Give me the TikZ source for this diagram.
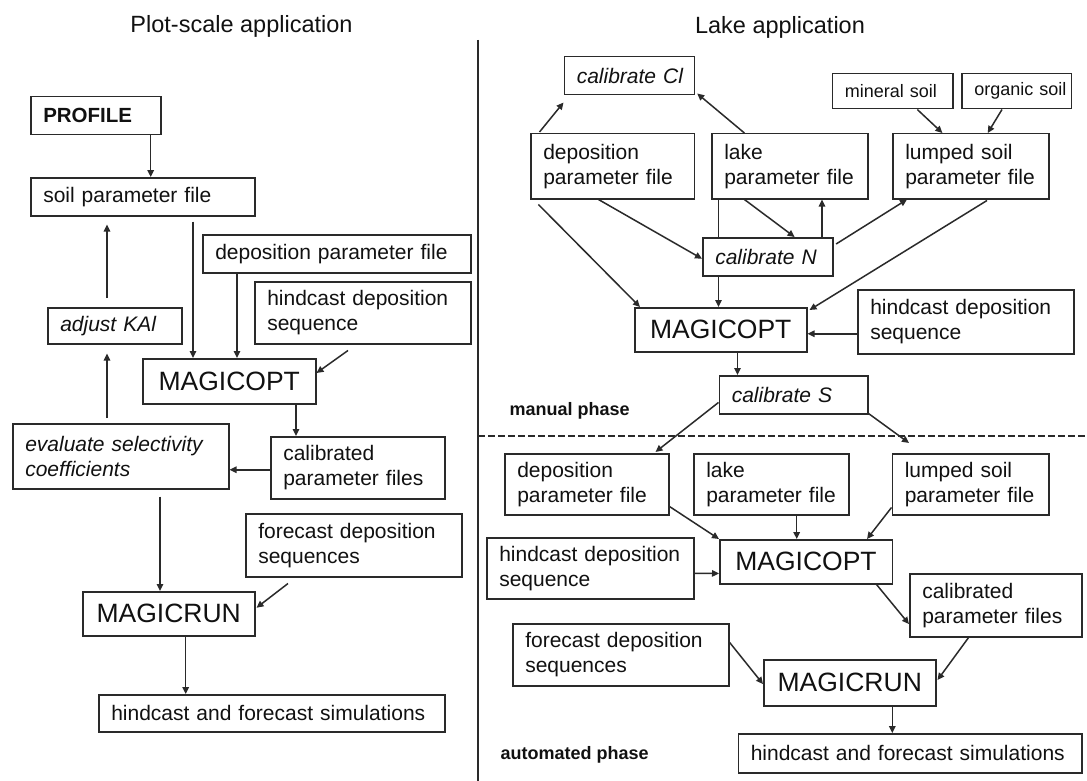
\documentclass[tikz,border=0pt]{standalone}
\usepackage{fontspec}
\setmainfont{Liberation Sans}
\usetikzlibrary{arrows.meta,calc}
\definecolor{linecol}{HTML}{2a2a2a}
\definecolor{txtcol}{HTML}{111111}
\tikzset{
  box/.style={draw=linecol, line width=1.5pt, inner xsep=12.5pt, inner ysep=0pt,
    align=left, text=txtcol, font=\fontsize{21}{25}\selectfont},
  itbox/.style={font=\fontsize{21}{25}\selectfont\itshape},
  bigbox/.style={align=center, font=\fontsize{26.5}{30}\selectfont},
  smallbox/.style={font=\fontsize{18}{22}\selectfont},
  arr/.style={draw=linecol, line width=1.5pt, -{Triangle[length=7pt,width=6.5pt]}},
  conn/.style={draw=linecol, line width=1.5pt},
  titletext/.style={font=\fontsize{23.5}{27}\selectfont, text=txtcol, anchor=base},
  phasetext/.style={font=\bfseries\fontsize{18}{21}\selectfont, text=txtcol, anchor=base west},
}
\newcommand{\mybox}[7][]{%
  \pgfmathsetmacro{\mbw}{#5-#3}%
  \pgfmathsetmacro{\mbh}{#6-#4}%
  \pgfmathsetmacro{\mbt}{#5-#3-25}%
  \node[box, minimum width=\mbw pt, minimum height=\mbh pt, text width=\mbt pt,
        anchor=north west, #1] (#2) at (#3,#4) {#7};%
}
\begin{document}
\begin{tikzpicture}[x=1pt,y=-1pt]
\fill[white] (0,0) rectangle (1087,781);
\useasboundingbox (0,0) rectangle (1087,781);

% titles and separators
\node[titletext] (t1) at (241.5,33) {Plot-scale application};
\node[titletext] (t2) at (780,34) {Lake application};
\coordinate (septop) at (478,40);
\coordinate (sepbot) at (478,781);
\draw[conn] (septop) -- (sepbot);
\coordinate (dashL) at (478,436);
\coordinate (dashR) at (1087,436);
\draw[conn, dash pattern=on 6.5pt off 3.5pt] (dashL) -- (dashR);
\node[phasetext] (mp) at (506,415) {manual phase};
\node[phasetext] (ap) at (497,759) {automated phase};

% ---------- left panel ----------
\mybox[font=\bfseries\fontsize{20.5}{24}\selectfont]{profile}{30}{96}{160}{134}{PROFILE}
\mybox{soil}{30}{177}{254}{215}{soil parameter file}
\mybox{dep1}{202}{234}{470}{272}{deposition parameter file}
\mybox{hind1}{254}{281}{470}{343}{hindcast deposition\\sequence}
\mybox[itbox]{kai}{47}{307}{181}{343}{adjust KAl}
\mybox[bigbox]{opt1}{142}{358}{315}{403}{MAGICOPT}
\mybox{cal1}{270}{436}{444}{498}{calibrated\\parameter files}
\mybox[itbox]{eval}{12}{423}{228}{488}{evaluate selectivity\\coefficients}
\mybox{fore1}{245}{513}{461}{576}{forecast deposition\\sequences}
\mybox[bigbox]{run1}{82}{591}{254}{635}{MAGICRUN}
\mybox{sim1}{98}{694}{444}{731}{hindcast and forecast simulations}

\draw[arr] ($(profile.south west)+(120.7,0)$) -- ($(soil.north west)+(120.7,0)$);
\draw[arr] ($(soil.south west)+(163,5)$) -- ($(opt1.north west)+(51,0)$);
\draw[arr] ($(dep1.south west)+(35,0)$) -- ($(opt1.north west)+(95,0)$);
\draw[arr] ($(hind1.south west)+(94,6)$) -- ($(opt1.north east)+(0,15)$);
\draw[arr] ($(opt1.south west)+(154,0)$) -- ($(cal1.north west)+(26,0)$);
\draw[arr] ($(cal1.west)+(0,2)$) -- ($(eval.east)+(0,13.5)$);
\draw[arr] ($(eval.north west)+(95,-5)$) -- ($(kai.south west)+(60,9)$);
\draw[arr] ($(kai.north west)+(60,-9)$) -- ($(soil.south west)+(77,8)$);
\draw[arr] ($(eval.south west)+(148,7)$) -- ($(run1.north west)+(78,0)$);
\draw[arr] ($(fore1.south west)+(43,6)$) -- ($(run1.east)+(1,-6)$);
\draw[arr] ($(run1.south west)+(103.7,0)$) -- ($(sim1.north west)+(87.7,0)$);

% ---------- right panel ----------
\mybox[itbox]{calCl}{563.5}{56}{693.7}{94}{\mbox{calibrate Cl}}
\mybox[smallbox]{mineral}{831.6}{73}{952}{108}{\mbox{mineral soil}}
\mybox[smallbox]{organic}{961}{73}{1070.7}{108}{\mbox{organic soil}}
\mybox{dep2}{530}{133}{693.7}{198}{deposition\\parameter file}
\mybox{lake2}{711}{133}{867}{198}{lake\\parameter file}
\mybox{lump2}{892}{133}{1048}{198}{lumped soil\\parameter file}
\mybox[itbox]{calN}{702}{237}{832}{275}{\mbox{calibrate N}}
\mybox[bigbox]{opt2}{634}{307}{806}{351}{MAGICOPT}
\mybox{hind2}{857}{289}{1073}{353}{hindcast deposition\\sequence}
\mybox[itbox]{calS}{718.5}{375}{867}{413}{\mbox{calibrate S}}
\mybox{dep3}{504}{453}{668}{514}{deposition\\parameter file}
\mybox{lake3}{693}{453}{848}{514}{lake\\parameter file}
\mybox{lump3}{891.5}{453}{1048}{514}{lumped soil\\parameter file}
\mybox{hind3}{486}{537}{693}{598}{hindcast deposition\\sequence}
\mybox[bigbox]{opt3}{719}{539}{891.5}{583}{MAGICOPT}
\mybox{cal3}{909}{573}{1081}{636}{calibrated\\parameter files}
\mybox{fore3}{512}{623}{728}{685}{forecast deposition\\sequences}
\mybox[bigbox]{run3}{763}{659}{935}{705}{MAGICRUN}
\mybox{sim3}{737.5}{733}{1081}{772}{hindcast and forecast simulations}

\draw[arr] ($(dep2.north west)+(9.5,-1)$) -- ($(calCl.south west)+(0,7)$);
\draw[arr] ($(lake2.north west)+(33.4,0)$) -- ($(calCl.south east)+(2,-2)$);
\draw[arr] ($(mineral.south west)+(85.7,0)$) -- ($(lump2.north west)+(50.4,0)$);
\draw[arr] ($(organic.south west)+(41,0)$) -- ($(lump2.north west)+(95.7,0)$);
\draw[arr] ($(dep2.south west)+(68.5,0)$) -- ($(calN.west)+(0,2)$);
\draw[arr] ($(dep2.south west)+(8.4,5)$) -- ($(opt2.north west)+(6,0)$);
\draw[arr] ($(lake2.south west)+(33.4,0)$) -- ($(calN.north west)+(92.6,0)$);
\draw[arr] ($(calN.north west)+(120,0)$) -- ($(lake2.south west)+(111,0)$);
\draw[conn] ($(lake2.south west)+(7.5,0)$) -- ($(calN.north west)+(16.5,0)$);
\draw[arr] ($(calN.south west)+(16.5,0)$) -- ($(opt2.north west)+(84.5,0)$);
\draw[arr] ($(calN.north east)+(2.6,7)$) -- ($(lump2.south west)+(15,0)$);
\draw[arr] ($(lump2.south west)+(95,1)$) -- ($(opt2.north east)+(2,3)$);
\draw[arr] ($(hind2.west)+(0,12)$) -- ($(opt2.east)+(0,4)$);
\draw[arr] ($(opt2.south west)+(103.5,0)$) -- ($(calS.north west)+(19,0)$);
\draw[arr] ($(calS.west)+(0,7.7)$) -- ($(dep3.north east)+(-14,-1)$);
\draw[arr] ($(calS.south east)+(0,-1)$) -- ($(lump3.north west)+(17.5,-10)$);
\draw[arr] ($(dep3.south east)+(0,-9)$) -- (opt3.north west);
\draw[arr] ($(lake3.south west)+(103.7,0)$) -- ($(opt3.north west)+(77.7,0)$);
\draw[arr] ($(lump3.south west)+(0,-8)$) -- ($(opt3.north west)+(148,0)$);
\draw[arr] ($(hind3.east)+(0,5)$) -- ($(opt3.west)+(0,11.7)$);
\draw[arr] ($(opt3.south east)+(-16.5,0)$) -- ($(cal3.west)+(0,18.8)$);
\draw[arr] ($(cal3.south west)+(59.6,0)$) -- ($(run3.east)+(1,-2.7)$);
\draw[arr] ($(fore3.north east)+(0,19.3)$) -- ($(run3.west)+(0,1.3)$);
\draw[arr] ($(run3.south west)+(129.3,0)$) -- ($(sim3.north west)+(154.8,0)$);
\end{tikzpicture}
\end{document}
